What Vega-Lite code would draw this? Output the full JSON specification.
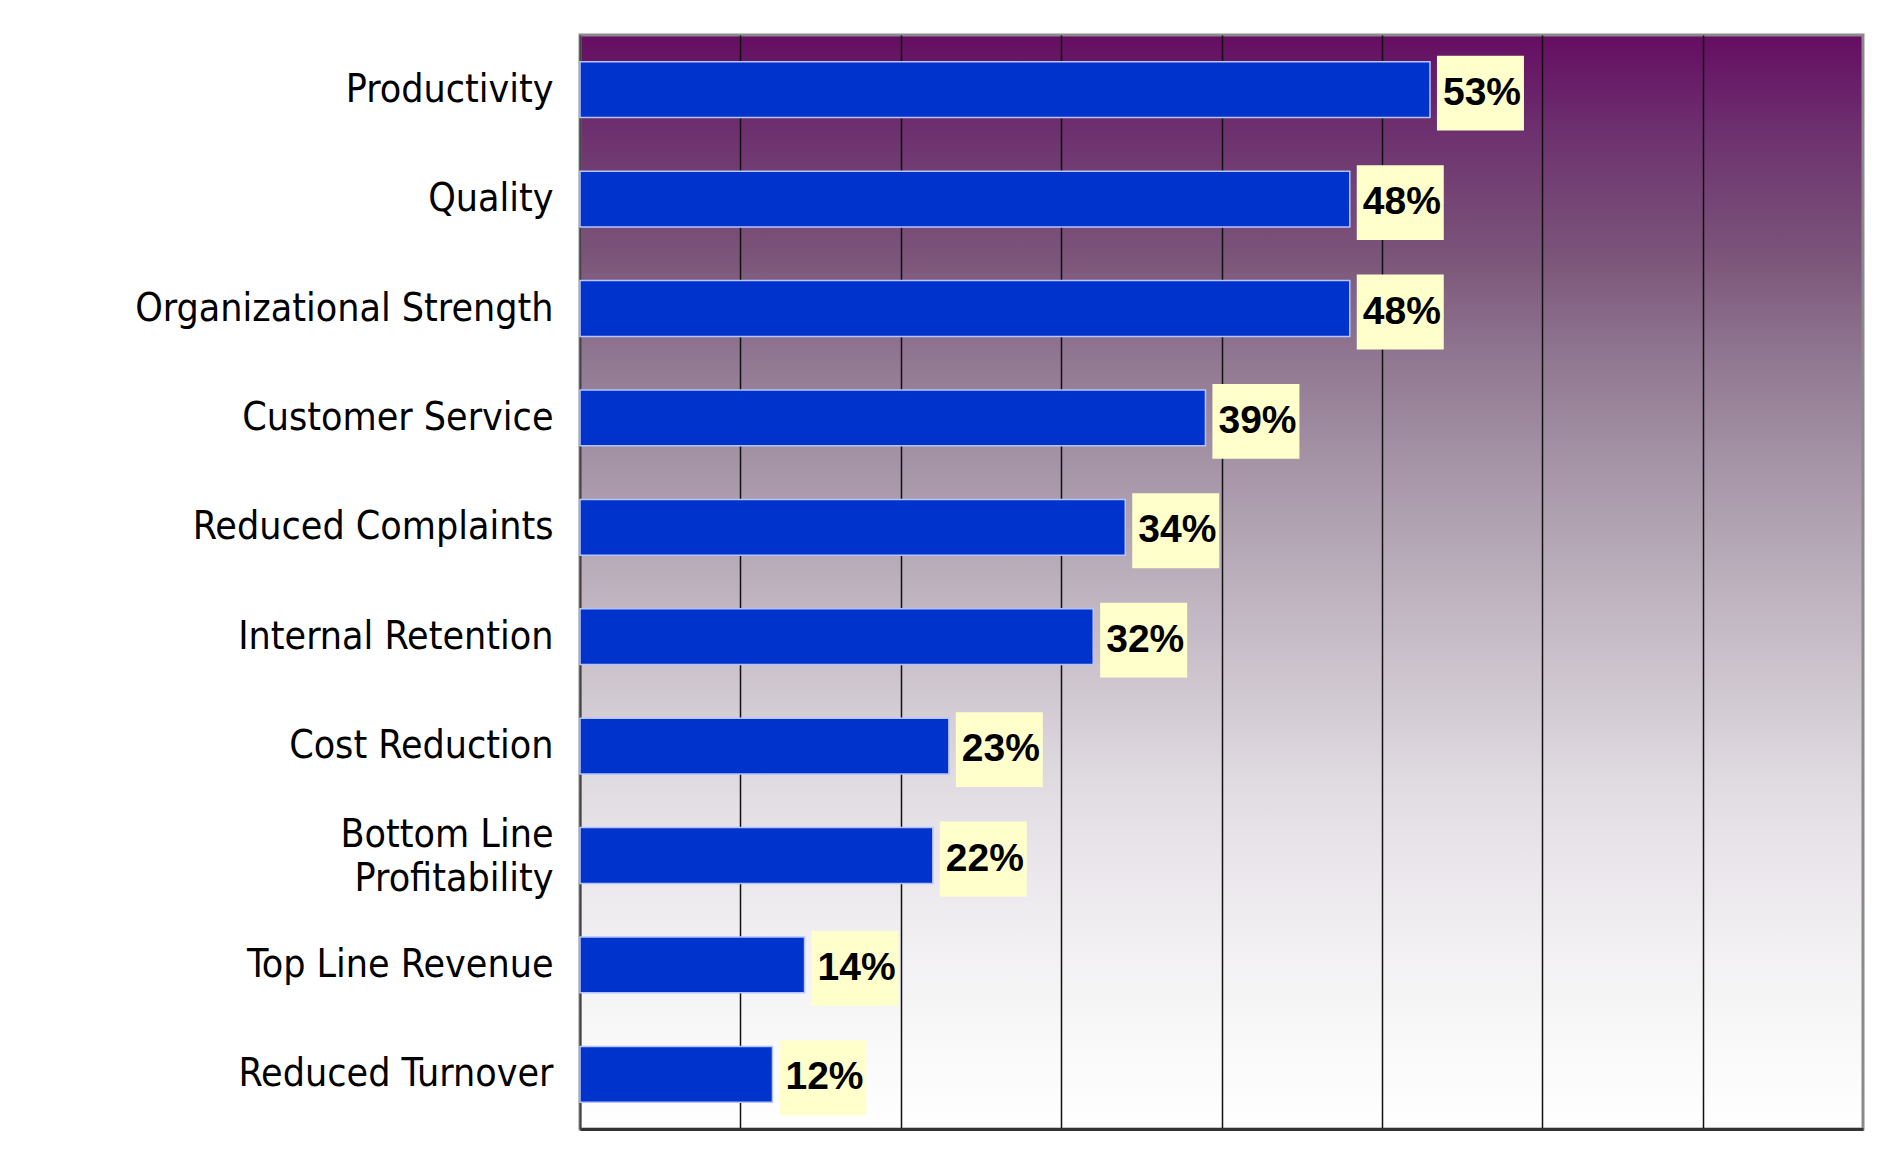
{
  "$schema": "https://vega.github.io/schema/vega-lite/v6.json",
  "width": 1283,
  "height": 1094,
  "autosize": {"type": "none"},
  "padding": {"left": 580, "top": 35, "right": 36, "bottom": 28},
  "background": "white",
  "config": {
    "view": {
      "fill": {
        "gradient": "linear",
        "x1": 0, "y1": 0, "x2": 0, "y2": 1,
        "stops": [
          {"offset": 0, "color": "#650d62"},
          {"offset": 0.1, "color": "#6e3570"},
          {"offset": 0.2, "color": "#7b5479"},
          {"offset": 0.3, "color": "#917992"},
          {"offset": 0.4, "color": "#a796a8"},
          {"offset": 0.5, "color": "#bcb0bd"},
          {"offset": 0.6, "color": "#d0c8d1"},
          {"offset": 0.7, "color": "#e3dee4"},
          {"offset": 0.8, "color": "#efecf0"},
          {"offset": 0.9, "color": "#f7f7f7"},
          {"offset": 1, "color": "#ffffff"}
        ]
      },
      "stroke": "#8a8a8a",
      "strokeWidth": 3
    }
  },
  "data": {
    "values": [
      {"category": "Productivity", "value": 53, "label": "53%"},
      {"category": "Quality", "value": 48, "label": "48%"},
      {"category": "Organizational Strength", "value": 48, "label": "48%"},
      {"category": "Customer Service", "value": 39, "label": "39%"},
      {"category": "Reduced Complaints", "value": 34, "label": "34%"},
      {"category": "Internal Retention", "value": 32, "label": "32%"},
      {"category": "Cost Reduction", "value": 23, "label": "23%"},
      {"category": "Bottom Line|Profitability\u00a0\u00a0", "value": 22, "label": "22%"},
      {"category": "Top Line Revenue", "value": 14, "label": "14%"},
      {"category": "Reduced Turnover", "value": 12, "label": "12%"}
    ]
  },
  "encoding": {
    "y": {
      "field": "category",
      "type": "nominal",
      "sort": null,
      "scale": {"paddingInner": 0.49, "paddingOuter": 0.245},
      "axis": {
        "title": null,
        "ticks": false,
        "grid": false,
        "domain": true,
        "domainColor": "#444444",
        "domainWidth": 2,
        "labelFont": "DejaVu Sans Condensed",
        "labelFontSize": 39,
        "labelColor": "#000000",
        "labelPadding": 27,
        "labelLimit": 560,
        "labelLineHeight": 44,
        "labelOffset": {"condition": {"test": "indexof(datum.value, '|') >= 0", "value": -21}, "value": 0},
        "labelExpr": "split(datum.label, '|')"
      }
    }
  },
  "layer": [
    {
      "mark": {"type": "bar", "color": "#0033cc", "stroke": "#b4c4ff", "strokeWidth": 1.5},
      "encoding": {
        "x": {
          "field": "value",
          "type": "quantitative",
          "scale": {"domain": [0, 80]},
          "axis": {
            "title": null,
            "values": [10, 20, 30, 40, 50, 60, 70],
            "labels": false,
            "ticks": false,
            "grid": true,
            "gridColor": "#111111",
            "gridWidth": 1.5,
            "gridOpacity": 1,
            "domain": true,
            "domainColor": "#333333",
            "domainWidth": 3
          }
        }
      }
    },
    {
      "mark": {
        "type": "point",
        "shape": "M0.16,-0.78H2.16V0.94H0.16Z",
        "size": 7569,
        "filled": true,
        "color": "#ffffcc",
        "opacity": 1,
        "strokeWidth": 0
      },
      "encoding": {"x": {"field": "value", "type": "quantitative"}}
    },
    {
      "mark": {
        "type": "text",
        "align": "left",
        "baseline": "middle",
        "dx": 13,
        "dy": 3,
        "font": "Liberation Sans",
        "fontWeight": "bold",
        "fontSize": 39,
        "color": "#000000"
      },
      "encoding": {
        "x": {"field": "value", "type": "quantitative"},
        "text": {"field": "label"}
      }
    }
  ]
}
